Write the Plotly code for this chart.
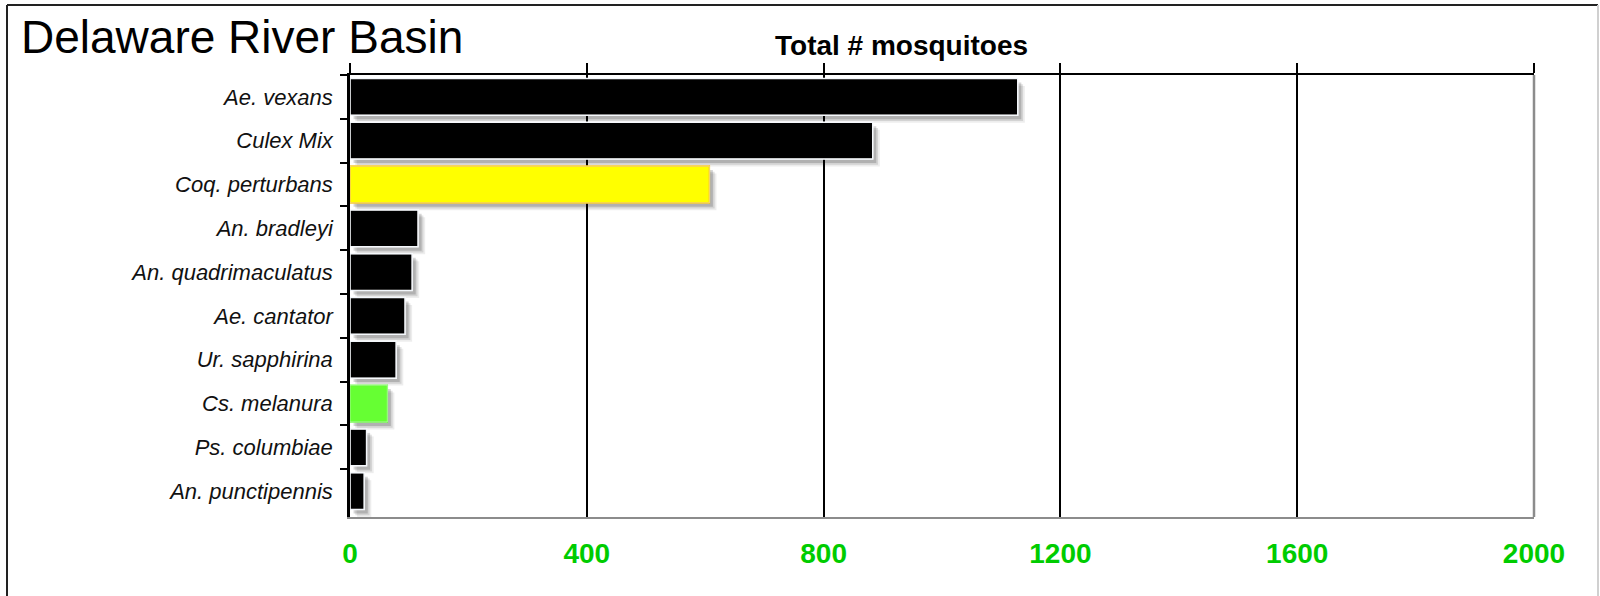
import plotly.graph_objects as go

species = ["Ae. vexans", "Culex Mix", "Coq. perturbans", "An. bradleyi",
           "An. quadrimaculatus", "Ae. cantator", "Ur. sapphirina",
           "Cs. melanura", "Ps. columbiae", "An. punctipennis"]
totals = [1128, 883, 607, 115, 105, 93, 78, 63, 28, 24]
bar_colors = ["#000000", "#000000", "#FFFF00", "#000000", "#000000",
              "#000000", "#000000", "#66FF33", "#000000", "#000000"]
bar_lines = ["#FFFFFF", "#FFFFFF", "#FFC000", "#FFFFFF", "#FFFFFF",
             "#FFFFFF", "#FFFFFF", "#66FF33", "#FFFFFF", "#FFFFFF"]
x_ticks = [0, 400, 800, 1200, 1600, 2000]

title_text = "Delaware River Basin"
axis_title = "Total # mosquitoes"

W, H = 1600, 596
L, R, T, B = 350, 66, 75, 79
pw, ph = W - L - R, H - T - B

def px_x(p):
    return (p - L) / pw

def px_y(p):
    return (H - B - p) / ph

BW = 0.84
fig = go.Figure()
# soft drop shadows (layers)
for dx, dy, a in [(12, 0.17, 0.07), (9, 0.13, 0.11), (6, 0.09, 0.16)]:
    fig.add_trace(go.Bar(
        x=totals, y=species, orientation="h", base=dx, width=BW,
        offset=-BW / 2 + dy, marker=dict(color=f"rgba(0,0,0,{a})", line=dict(width=0)),
        hoverinfo="skip", showlegend=False))
fig.add_trace(go.Bar(
    x=totals, y=species, orientation="h", width=BW,
    marker=dict(color=bar_colors, line=dict(color=bar_lines, width=1.5)),
    showlegend=False))
# invisible trace to activate the top axis
fig.add_trace(go.Bar(
    x=totals, y=species, orientation="h", xaxis="x2", width=BW,
    marker=dict(color="rgba(0,0,0,0)"), hoverinfo="skip", showlegend=False))

fig.update_layout(
    width=W, height=H,
    margin=dict(l=L, r=R, t=T, b=B, autoexpand=False),
    paper_bgcolor="white", plot_bgcolor="white",
    barmode="overlay",
    font=dict(family="Liberation Sans, Arial, sans-serif", color="#000"),
    xaxis=dict(range=[0, 2000], tickvals=x_ticks, showgrid=False, automargin=False,
               zeroline=False, showline=True, linecolor="#8C8C8C", linewidth=2,
               ticks="", ticklabelstandoff=10,
               tickfont=dict(size=28, color="#00CC00",
                             family="Liberation Sans, Arial, sans-serif", weight="bold")),
    xaxis2=dict(range=[0, 2000], tickvals=x_ticks, overlaying="x", side="top",
                automargin=False,
                showgrid=True, gridcolor="#000", gridwidth=2, zeroline=False,
                showline=True, linecolor="#000", linewidth=2,
                ticks="outside", ticklen=10, tickwidth=2, tickcolor="#000",
                showticklabels=False),
    yaxis=dict(categoryorder="array", categoryarray=species, autorange="reversed",
               automargin=False,
               showline=True, linecolor="#000", linewidth=2.5,
               ticks="outside", tickson="boundaries", ticklen=7, tickwidth=2,
               tickcolor="#000", showgrid=False, zeroline=False,
               ticklabelstandoff=10,
               tickfont=dict(size=22, color="#111", style="italic",
                             family="Liberation Sans, Arial, sans-serif")),
    bargap=0.16,
)

fig.add_shape(type="line", xref="paper", yref="paper", x0=1, x1=1, y0=0, y1=1,
              line=dict(color="#8C8C8C", width=2.5), layer="above")
# outer frame
fig.add_shape(type="line", xref="paper", yref="paper",
              x0=px_x(7), x1=px_x(7), y0=px_y(600), y1=px_y(5),
              line=dict(color="#222", width=2))
fig.add_shape(type="line", xref="paper", yref="paper",
              x0=px_x(7), x1=px_x(1598), y0=px_y(5), y1=px_y(5),
              line=dict(color="#222", width=2))
fig.add_shape(type="line", xref="paper", yref="paper",
              x0=px_x(1598), x1=px_x(1598), y0=px_y(600), y1=px_y(5),
              line=dict(color="#D0D0D0", width=2))

fig.add_annotation(text=title_text, xref="paper", yref="paper",
                   x=px_x(19), y=px_y(37), xanchor="left", yanchor="middle",
                   showarrow=False,
                   font=dict(size=46, color="#000", family="Liberation Sans, Arial, sans-serif"))
fig.add_annotation(text="<b>" + axis_title + "</b>", xref="paper", yref="paper",
                   x=px_x(901), y=px_y(45), xanchor="center", yanchor="middle",
                   showarrow=False,
                   font=dict(size=28, color="#000", family="Liberation Sans, Arial, sans-serif"))

fig.write_html("out.html", config={"displayModeBar": False},
               post_script="document.body.style.margin='0';document.body.style.overflow='hidden';")
